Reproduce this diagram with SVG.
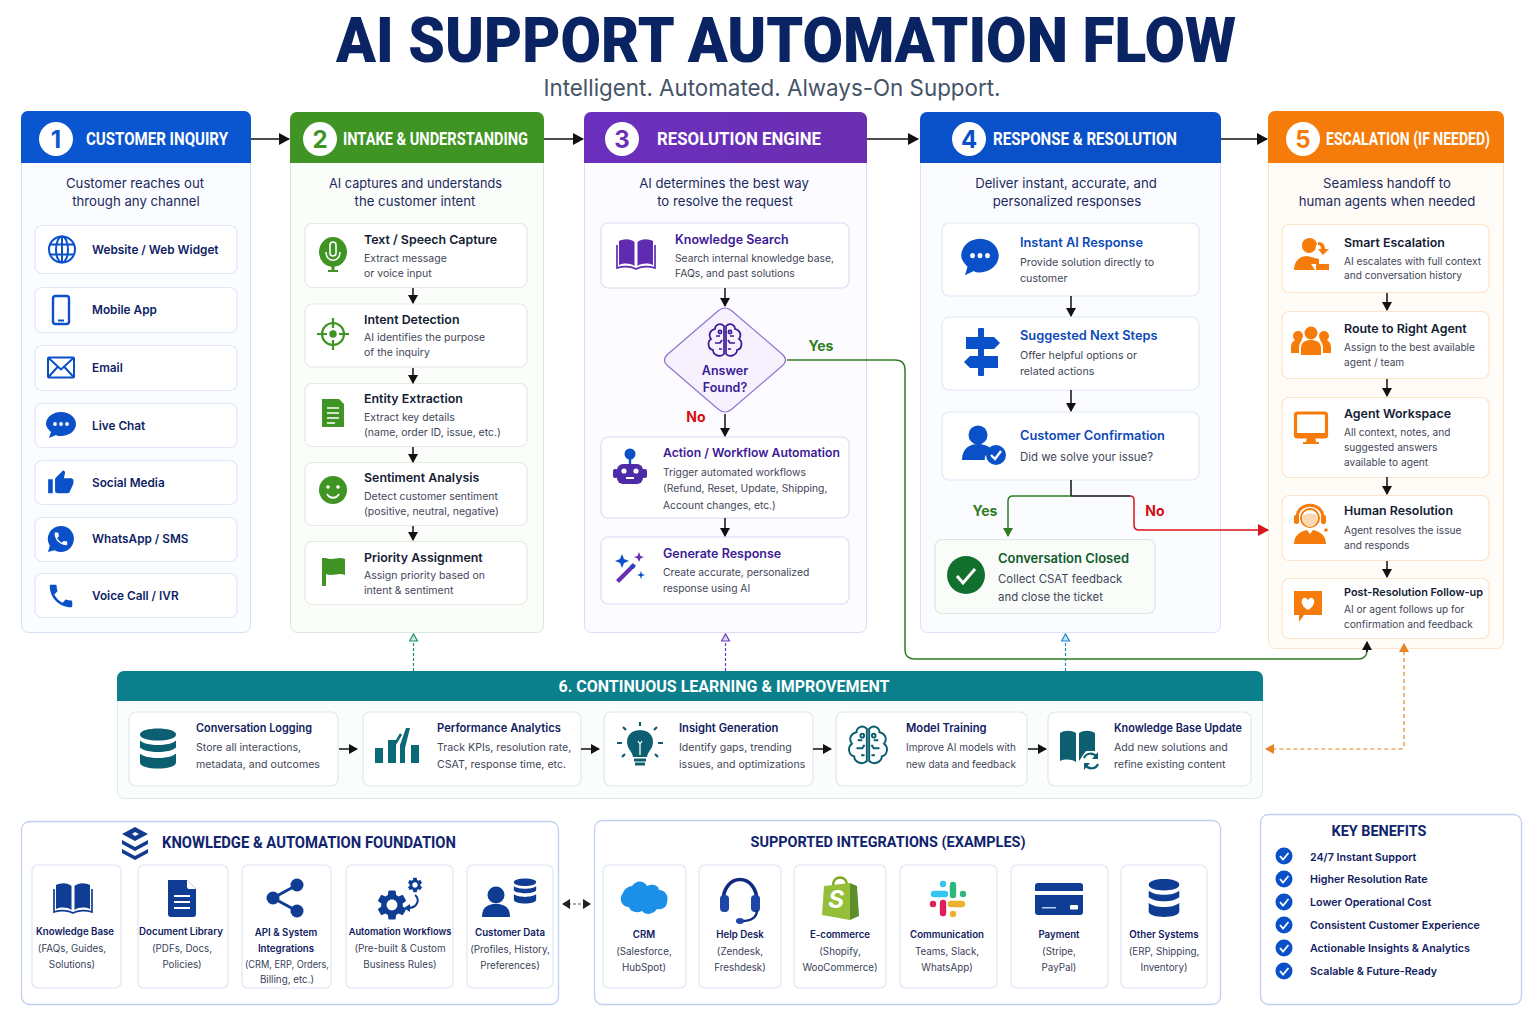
<svg xmlns="http://www.w3.org/2000/svg" width="1536" height="1024" viewBox="0 0 1536 1024">
<style>
text{font-family:Inter,"Noto Sans","Liberation Sans",sans-serif}
.hd{font-family:Roboto,"Liberation Sans",sans-serif;font-weight:700;font-size:18px;fill:#fff}
.num{font-family:Inter,sans-serif;font-weight:700;font-size:24px;text-anchor:middle}
.sub{font-size:13.2px;text-anchor:middle;fill:#1b2a5c}
.t{font-size:12.4px;font-weight:600;fill:#141c33}
.d{font-size:10.7px;fill:#3f4658}
.dg{font-size:10.5px;fill:#3f4658}
.dp{font-size:10.3px;fill:#3f4658}
.do{font-size:10.15px;fill:#3f4658}
.dl{font-size:11.4px;fill:#3f4658}
.tb{font-size:11.8px;font-weight:600;fill:#0f1f66}
.tp{font-size:12.5px;font-weight:600;fill:#3c1a96}
.ts{font-size:12.8px;font-weight:600;fill:#0c49b8}
.s6{font-size:11.2px;font-weight:600;fill:#10205f}
.d6{font-size:10.6px;fill:#3f4658}
.ct{font-size:9.7px;font-weight:600;fill:#10205f;text-anchor:middle}
.cd{font-size:9.8px;fill:#3a4258;text-anchor:middle}
.kb{font-size:10.7px;font-weight:600;fill:#10205f}
.card{fill:#fff;stroke:#dfe6f5;stroke-width:1.2}
.cardg{fill:#fff;stroke:#e3eadf;stroke-width:1.2}
.cardp{fill:#fff;stroke:#e0daf3;stroke-width:1.2}
.cardo{fill:#fff;stroke:#fde3c8;stroke-width:1.2}
.cardt{fill:#fff;stroke:#dde8ee;stroke-width:1.2}
.cn{fill:none;stroke:#111;stroke-width:1.5}
.lab{font-size:14px;font-weight:700}
</style>
<defs>
<marker id="akb" markerWidth="11" markerHeight="12" refX="10" refY="6" orient="auto" markerUnits="userSpaceOnUse"><path d="M0 0L11 6L0 12Z" fill="#111"/></marker>
<marker id="akd" markerWidth="9" markerHeight="10" refX="8" refY="5" orient="auto" markerUnits="userSpaceOnUse"><path d="M0 0L9 5L0 10Z" fill="#111"/></marker>
<marker id="agr" markerWidth="9" markerHeight="10" refX="8" refY="5" orient="auto" markerUnits="userSpaceOnUse"><path d="M0 0L9 5L0 10Z" fill="#2f7d22"/></marker>
<marker id="ard" markerWidth="11" markerHeight="12" refX="10" refY="6" orient="auto" markerUnits="userSpaceOnUse"><path d="M0 0L11 6L0 12Z" fill="#d8141c"/></marker>
<marker id="aor" markerWidth="9" markerHeight="10" refX="8" refY="5" orient="auto-start-reverse" markerUnits="userSpaceOnUse"><path d="M0 0L9 5L0 10Z" fill="#e58422"/></marker>
<marker id="atl" markerWidth="9" markerHeight="10" refX="8" refY="5" orient="auto" markerUnits="userSpaceOnUse"><path d="M1 1L8 5L1 9Z" fill="#c9ebdc" stroke="#1f8f6a" stroke-width="1.2"/></marker>
<marker id="apu" markerWidth="9" markerHeight="10" refX="8" refY="5" orient="auto" markerUnits="userSpaceOnUse"><path d="M1 1L8 5L1 9Z" fill="#e6dcf6" stroke="#6a3ab5" stroke-width="1.2"/></marker>
<marker id="abl" markerWidth="9" markerHeight="10" refX="8" refY="5" orient="auto" markerUnits="userSpaceOnUse"><path d="M1 1L8 5L1 9Z" fill="#cfe7f7" stroke="#1c86c9" stroke-width="1.2"/></marker>
<marker id="adb" markerWidth="8" markerHeight="10" refX="7" refY="5" orient="auto-start-reverse" markerUnits="userSpaceOnUse"><path d="M0 0L8 5L0 10Z" fill="#222"/></marker>
<linearGradient id="gP" x1="0" y1="0" x2="1" y2="0"><stop offset="0" stop-color="#6b2fbf"/><stop offset="1" stop-color="#6a2fb0"/></linearGradient>

<g id="i-globe" fill="none" stroke="currentColor" stroke-width="2"><circle r="13"/><ellipse rx="6" ry="13"/><path d="M0-13V13M-12-5H12M-12 5H12"/></g>
<g id="i-phone"><rect x="-8" y="-14" width="16" height="28" rx="2.5" fill="none" stroke="currentColor" stroke-width="2.4"/><rect x="-3" y="9.500" width="6" height="2" fill="currentColor"/></g>
<g id="i-mail" fill="none" stroke="currentColor" stroke-width="2"><rect x="-13" y="-10" width="26" height="20" rx="1"/><path d="M-13-10L0 2L13-10M-13 10L-3-1M13 10L3-1"/></g>
<g id="i-chat"><path d="M0-13C9-13 15-7 15-1C15 6 8 11 0 11C-2 11-4 11-5 10L-12 13L-10 7C-13 4-15 2-15-1C-15-7-9-13 0-13Z" fill="currentColor"/><circle cx="-6" cy="-1" r="1.9" fill="#fff"/><circle cy="-1" r="1.9" fill="#fff"/><circle cx="6" cy="-1" r="1.9" fill="#fff"/></g>
<g id="i-thumb" fill="currentColor" transform="translate(-14 -13) scale(1.15)"><path d="M1 21h4V9H1v12zm22-11c0-1.1-.9-2-2-2h-6.31l.95-4.57.03-.32c0-.41-.17-.79-.44-1.06L14.17 1 7.59 7.59C7.22 7.95 7 8.45 7 9v10c0 1.1.9 2 2 2h9c.83 0 1.54-.5 1.84-1.22l3.02-7.05c.09-.23.14-.47.14-.73v-2z"/></g>
<g id="i-wa"><path d="M0-13A13 13 0 1 1-6.500 11.300L-13 13L-11.200 6.800A13 13 0 0 1 0-13Z" fill="currentColor"/><g transform="translate(-8.500 -8.500) scale(.7)"><path fill="#fff" d="M6.62 10.79c1.44 2.83 3.76 5.14 6.59 6.59l2.2-2.2c.27-.27.67-.36 1.02-.24 1.12.37 2.33.57 3.57.57.55 0 1 .45 1 1V20c0 .55-.45 1-1 1-9.39 0-17-7.61-17-17 0-.55.45-1 1-1h3.5c.55 0 1 .45 1 1 0 1.25.2 2.45.57 3.57.11.35.03.74-.25 1.02l-2.2 2.2z"/></g></g>
<g id="i-call" transform="translate(-15 -15) scale(1.25)"><path fill="currentColor" d="M6.62 10.79c1.44 2.83 3.76 5.14 6.59 6.59l2.2-2.2c.27-.27.67-.36 1.02-.24 1.12.37 2.33.57 3.57.57.55 0 1 .45 1 1V20c0 .55-.45 1-1 1-9.39 0-17-7.61-17-17 0-.55.45-1 1-1h3.5c.55 0 1 .45 1 1 0 1.25.2 2.45.57 3.57.11.35.03.74-.25 1.02l-2.2 2.2z"/></g>
<g id="i-mic"><ellipse cy="-3" rx="14" ry="15" fill="currentColor"/><rect x="-3" y="-13" width="6" height="14" rx="3" fill="none" stroke="#fff" stroke-width="1.6"/><path d="M-7-3C-7 8 7 8 7-3" fill="none" stroke="#fff" stroke-width="1.5"/><path d="M-1.500 11H1.500V15H5V17H-5V15H-1.500Z" fill="currentColor"/></g>
<g id="i-target" fill="none" stroke="currentColor" stroke-width="2.2"><circle r="11"/><path d="M0-16V-6M0 6V16M-16 0H-6M6 0H16"/><circle r="2.6" fill="currentColor"/></g>
<g id="i-doc"><path d="M-11-14H6L11-9V14H-11Z" fill="currentColor"/><path d="M-6-5H6M-6 0H6M-6 5H6M-6 10H2" stroke="#fff" stroke-width="1.6"/></g>
<g id="i-smile"><circle r="14" fill="currentColor"/><circle cx="-5" cy="-3" r="1.8" fill="#fff"/><circle cx="5" cy="-3" r="1.8" fill="#fff"/><path d="M-6 4C-3 9 3 9 6 4" fill="none" stroke="#fff" stroke-width="1.8"/></g>
<g id="i-flag"><path d="M-11-14H-7V14H-11Z" fill="currentColor"/><path d="M-7-14C0-11 5-16 12-13V3C5 0 0 5-7 2Z" fill="currentColor"/></g>
<g id="i-book"><path d="M-1.500-12C-6-16-13-15-17-13V11C-12 9-6 9-1.500 12ZM1.500-12C6-16 13-15 17-13V11C12 9 6 9 1.500 12Z" fill="currentColor"/><path d="M-19-9V14C-13 12-5 12 0 15C5 12 13 12 19 14V-9" fill="none" stroke="currentColor" stroke-width="1.7"/></g>
<g id="i-brain" fill="none" stroke="currentColor" stroke-width="1.7"><path d="M-1-15C-5-19-10-16-10-12C-15-11-17-6-14-2C-18 1-17 8-12 9C-12 14-5 17-1 13ZM1-15C5-19 10-16 10-12C15-11 17-6 14-2C18 1 17 8 12 9C12 14 5 17 1 13Z"/><path d="M-9-5H-5M-10 2H-5L-3-1M-6 8H-3M9-5H5M10 2H5L3-1M6 8H3"/><circle cx="-5" cy="-9" r="1.6"/><circle cx="5" cy="-9" r="1.6"/></g>
<g id="i-robot"><path d="M0-8V-2" stroke="#0a50c8" stroke-width="2.4"/><circle cy="-12" r="5.500" fill="#0a50c8"/><rect x="-13" y="-2" width="26" height="20" rx="6" fill="currentColor"/><rect x="-17" y="3" width="5" height="9" rx="2" fill="currentColor"/><rect x="12" y="3" width="5" height="9" rx="2" fill="currentColor"/><circle cx="-6" cy="5" r="2.6" fill="#fff"/><circle cx="6" cy="5" r="2.6" fill="#fff"/><rect x="-4" y="11" width="8" height="2" fill="#fff"/></g>
<g id="i-wand"><path d="M-13 13L4-4L7-1L-10 16Z" fill="#6a2fb5"/><path d="M2-2L5 1" stroke="#0a50c8" stroke-width="3"/><path d="M-7-13L-5-8L0-6L-5-4L-7 1L-9-4L-14-6L-9-8Z" fill="#0a50c8"/><path d="M10-15L11.500-11L15-10L11.500-8.500L10-5L8.500-8.500L5-10L8.500-11Z" fill="#6a2fb5"/><path d="M12 4L13 7L16 8L13 9L12 12L11 9L8 8L11 7Z" fill="#0a50c8"/></g>
<g id="i-sign" fill="currentColor"><rect x="-3" y="-24" width="6" height="48" rx="1"/><path d="M-15-15H13L19-9L13-3H-15Z"/><path d="M17 4H-11L-17 10L-11 16H17Z"/></g>
<g id="i-uc" fill="currentColor"><circle cx="-6" cy="-10" r="9.500"/><path d="M-22 15C-22 3-14-1-6-1C0-1 6 1 8 6C3 8 0 11 1 15Z"/><circle cx="12" cy="10" r="10"/><path d="M7 10L11 14L17 6" fill="none" stroke="#fff" stroke-width="2.4"/></g>
<g id="i-ok"><circle r="19" fill="currentColor"/><path d="M-9 1L-3 8L9-6" fill="none" stroke="#fff" stroke-width="3"/></g>
<g id="i-esc" fill="currentColor"><circle cx="-4" cy="-10" r="7"/><path d="M-10-11C-10-19 3-19 3-11" fill="none" stroke="currentColor" stroke-width="2"/><path d="M-19 14C-19 4-12 0-6 0L6 3V8H-2L2 14Z"/><path d="M5-14C10-14 12-11 12-7H16L10-1L5-7H8C8-10 7-11 5-11Z"/><path d="M3 8H16V14H3Z"/></g>
<g id="i-ppl" fill="currentColor"><circle cy="-8" r="6.500"/><path d="M-10 14V7C-10 1-5-1 0-1C5-1 10 1 10 7V14Z"/><circle cx="-13" cy="-5" r="5"/><path d="M-20 12V6C-20 1-16-2-12-2C-11-2-10-2-9-1C-11 1-12 4-12 7V12Z"/><circle cx="13" cy="-5" r="5"/><path d="M20 12V6C20 1 16-2 12-2C11-2 10-2 9-1C11 1 12 4 12 7V12Z"/></g>
<g id="i-mon"><rect x="-15.500" y="-15" width="31" height="24" rx="2" fill="none" stroke="currentColor" stroke-width="3.200"/><rect x="-17" y="5" width="34" height="4" fill="currentColor"/><path d="M-4 9H4L5 14H8V16H-8V14H-5Z" fill="currentColor"/></g>
<g id="i-agent" fill="currentColor"><circle cy="-7" r="9" fill="#fff" stroke="currentColor" stroke-width="2"/><path d="M-13-7C-13-24 13-24 13-7" fill="none" stroke="currentColor" stroke-width="3"/><rect x="-16" y="-10" width="5" height="9" rx="2"/><rect x="11" y="-10" width="5" height="9" rx="2"/><path d="M-8-7C-8-13 8-13 8-7C8-4 5 2 0 2C-5 2-8-4-8-7Z" fill="#fbd8b5"/><path d="M-16 19C-16 9-8 6-3 5L0 9L3 5C8 6 16 9 16 19Z"/><circle cx="16" cy="5" r="1.800"/></g>
<g id="i-hb"><path d="M-14-14H14V10H-4L-9 17V10H-14Z" fill="currentColor"/><path d="M0 5C-10-1-6-9-2-7L0-5L2-7C6-9 10-1 0 5Z" fill="#fff"/></g>
<g id="i-db" fill="currentColor"><path d="M-18-14C-18-22 18-22 18-14C18-6-18-6-18-14Z"/><path d="M-18-8C-12-2 12-2 18-8V-1C12 5-12 5-18-1Z"/><path d="M-18 5C-12 11 12 11 18 5V14C18 22-18 22-18 14Z"/></g>
<g id="i-chart" fill="currentColor"><rect x="-22" y="0" width="8" height="15"/><rect x="-9" y="-8" width="8" height="23"/><rect x="14" y="-3" width="8" height="18"/><path d="M3 15V-3L9-20H13L8 0V15Z"/><path d="M-2-4L4-14" stroke="currentColor" stroke-width="2.500"/></g>
<g id="i-bulb" fill="currentColor"><path d="M0-15C-11-15-15-6-12 2C-10 6-8 7-7 12H7C8 7 10 6 12 2C15-6 11-15 0-15Z"/><rect x="-6" y="13.500" width="12" height="3"/><rect x="-5" y="17.500" width="10" height="3"/><path d="M0-19V-23M-14-15L-17-18M14-15L17-18M-18-2H-23M18-2H23M-15 9L-18 12M15 9L18 12" stroke="currentColor" stroke-width="2.200" fill="none"/><path d="M-2-4L0-1L2-4M0-1V10" stroke="#fff" stroke-width="1.300" fill="none"/></g>
<g id="i-kbu" fill="currentColor"><path d="M-2-15C-7-18-13-18-18-15V13C-13 11-7 11-2 14ZM1-15C6-18 12-18 17-15V3L8 3L1 13Z"/><circle cx="13" cy="13" r="10" fill="#fff"/><path d="M6 10C8 5 15 4 19 9M20 16C18 21 11 22 7 17" fill="none" stroke="currentColor" stroke-width="2.200"/><path d="M20 4V11H14ZM6 22V15H12Z"/></g>
<g id="i-stack" fill="currentColor"><path d="M0-15L13-8L0-1L-13-8Z"/><path d="M-13-2L0 5L13-2V2L0 9L-13 2Z"/><path d="M-13 7L0 14L13 7V11L0 18L-13 11Z"/><path d="M-3-8L0-10L4-8L0-6Z" fill="#fff"/></g>
<g id="i-file"><path d="M-14-18H5L14-9V16Q14 19 11 19H-11Q-14 19-14 16Z" fill="currentColor"/><path d="M5-18L14-9H7Q5-9 5-11Z" fill="#fff"/><path d="M-8-2H8M-8 4H8M-8 10H8" stroke="#fff" stroke-width="1.800"/></g>
<g id="i-share" fill="currentColor"><circle cx="-12" cy="0" r="6.500"/><circle cx="12" cy="-13" r="6.500"/><circle cx="12" cy="13" r="6.500"/><path d="M-12 0L12-13M-12 0L12 13" stroke="currentColor" stroke-width="3"/></g>
<g id="i-gears" fill="currentColor"><g transform="translate(-22 -12) scale(1.500)"><path fill-rule="evenodd" d="M19.140 12.940c.04-.3.06-.61.06-.94 0-.32-.02-.64-.07-.94l2.030-1.580c.18-.14.23-.41.12-.61l-1.920-3.320c-.12-.22-.37-.29-.59-.22l-2.390.96c-.5-.38-1.030-.7-1.620-.94l-.36-2.540c-.04-.24-.24-.41-.48-.41h-3.840c-.24 0-.43.17-.47.41l-.36 2.540c-.59.24-1.130.57-1.620.94l-2.390-.96c-.22-.08-.47 0-.59.22L2.740 8.870c-.12.21-.08.47.12.61l2.030 1.580c-.05.3-.09.63-.09.94s.02.64.07.94l-2.030 1.580c-.18.14-.23.41-.12.61l1.920 3.320c.12.22.37.29.59.22l2.390-.96c.5.38 1.030.7 1.620.94l.36 2.540c.05.24.24.41.48.41h3.840c.24 0 .44-.17.47-.41l.36-2.540c.59-.24 1.130-.56 1.620-.94l2.390.96c.22.08.47 0 .59-.22l1.920-3.320c.12-.22.07-.47-.12-.61l-2.010-1.580zM12 15.600c-1.980 0-3.600-1.620-3.600-3.600s1.620-3.600 3.600-3.600 3.600 1.620 3.600 3.600-1.620 3.600-3.600 3.600z"/></g><g transform="translate(10 -23) scale(.75)"><path fill-rule="evenodd" d="M19.140 12.940c.04-.3.06-.61.06-.94 0-.32-.02-.64-.07-.94l2.030-1.580c.18-.14.23-.41.12-.61l-1.920-3.320c-.12-.22-.37-.29-.59-.22l-2.390.96c-.5-.38-1.030-.7-1.620-.94l-.36-2.540c-.04-.24-.24-.41-.48-.41h-3.840c-.24 0-.43.17-.47.41l-.36 2.540c-.59.24-1.130.57-1.620.94l-2.390-.96c-.22-.08-.47 0-.59.22L2.740 8.870c-.12.21-.08.47.12.61l2.030 1.580c-.05.3-.09.63-.09.94s.02.64.07.94l-2.030 1.580c-.18.14-.23.41-.12.61l1.920 3.320c.12.22.37.29.59.22l2.390-.96c.5.38 1.030.7 1.620.94l.36 2.540c.05.24.24.41.48.41h3.840c.24 0 .44-.17.47-.41l.36-2.540c.59-.24 1.130-.56 1.620-.94l2.390.96c.22.08.47 0 .59-.22l1.920-3.320c.12-.22.07-.47-.12-.61l-2.010-1.580zM12 15.600c-1.980 0-3.600-1.620-3.600-3.600s1.620-3.600 3.600-3.600 3.600 1.620 3.600 3.600-1.620 3.600-3.600 3.600z"/></g><path d="M19-4C24 0 22 9 12 9" fill="none" stroke="currentColor" stroke-width="2"/><path d="M14 5V13L8 9Z"/></g>
<g id="i-cust" fill="currentColor"><circle cx="-14" cy="-3" r="8.500"/><path d="M-28 19C-28 8-21 6-14 6C-7 6 0 8 0 19Z"/><g transform="translate(15 -7) scale(.62)"><path d="M-18-14C-18-22 18-22 18-14C18-6-18-6-18-14Z"/><path d="M-18-8C-12-2 12-2 18-8V-1C12 5-12 5-18-1Z"/><path d="M-18 5C-12 11 12 11 18 5V14C18 22-18 22-18 14Z"/></g></g>
<g id="i-cloud"><path d="M-12-13C-8-19 0-19 3-13C9-16 15-13 15-9C22-9 25-2 23 3C23 9 17 11 13 10C10 15 2 17-2 12C-8 15-14 12-15 8C-22 8-26 0-21-6C-20-10-15-13-12-13Z" fill="#1c8fe8"/></g>
<g id="i-hs"><path d="M-17 2C-17-28 17-28 17 2" fill="none" stroke="#102a80" stroke-width="3.600"/><rect x="-20" y="-5" width="9" height="17" rx="4" fill="#1d46a8"/><rect x="11" y="-5" width="9" height="17" rx="4" fill="#1d46a8"/><path d="M17 10C17 18 10 21 2 21" fill="none" stroke="#102a80" stroke-width="2.400"/><ellipse cx="0" cy="21" rx="4" ry="3" fill="#1d46a8"/></g>
<g id="i-bag"><path d="M-7-13C-7-23 7-23 7-13" fill="none" stroke="#7fa81f" stroke-width="2.500"/><path d="M-16-12L10-15L10 22L-18 17Z" fill="#95bf3a"/><path d="M10-15L17-12L19 18L10 22Z" fill="#5e8e2c"/><text x="-4" y="10" font-family="Liberation Serif,serif" font-style="italic" font-weight="700" font-size="24" fill="#fff" text-anchor="middle">S</text></g>
<g id="i-slack" stroke-linecap="round" fill="none" stroke-width="6.400"><path d="M-14-5H-3M-5-15V-15" stroke="#36c5f0"/><path d="M5-14V-4M15-5V-5" stroke="#2eb67d"/><path d="M14 5H3M5 15V15" stroke="#ecb22e"/><path d="M-5 14V4M-15 5V5" stroke="#e01e5a"/></g>
<g id="i-card"><rect x="-24" y="-16" width="48" height="32" rx="3" fill="currentColor"/><rect x="-24" y="-8" width="48" height="4" fill="#fff"/><rect x="-17" y="8" width="14" height="1.500" fill="#bcd0f2"/><rect x="11" y="6" width="8" height="4.500" rx="1" fill="#fff"/></g>
<g id="i-kcheck"><circle r="8.500" fill="currentColor"/><path d="M-4 0L-1 3.500L4.500-3" fill="none" stroke="#fff" stroke-width="1.800"/></g>
</defs>

<rect width="1536" height="1024" fill="#fff"/>

<g id="title">
<text x="786" y="62" text-anchor="middle" textLength="900" lengthAdjust="spacingAndGlyphs" style="font-family:Roboto,'Liberation Sans',sans-serif;font-weight:900;font-size:63px;fill:#0a2463">AI SUPPORT AUTOMATION FLOW</text>
<text x="772" y="96" text-anchor="middle" textLength="457" lengthAdjust="spacingAndGlyphs" style="font-size:23px;fill:#465468">Intelligent. Automated. Always-On Support.</text>
</g>

<g id="panel1">
<rect x="21.500" y="111.500" width="229" height="521" rx="7" fill="#fbfcff" stroke="#d5e0f6"/>
<path d="M21 163V118a7 7 0 0 1 7-7H244a7 7 0 0 1 7 7V163Z" fill="#0a55d0"/>
<circle cx="56" cy="139" r="17" fill="#fff"/><text class="num" x="56" y="147.500" fill="#0a55d0">1</text>
<text class="hd" x="86" y="145" textLength="142" lengthAdjust="spacingAndGlyphs">CUSTOMER INQUIRY</text>
<text class="sub" x="135" y="188">Customer reaches out</text><text class="sub" x="136" y="206">through any channel</text>
</g>
<g id="ch-web"><rect class="card" x="35" y="225.500" width="202" height="48" rx="7"/><use href="#i-globe" x="62" y="249.500" style="color:#0a50c8"/><text class="tb" x="92" y="253.500">Website / Web Widget</text></g>
<g id="ch-mobile"><rect class="card" x="35" y="287.500" width="202" height="45" rx="7"/><use href="#i-phone" x="61" y="310" style="color:#0a50c8"/><text class="tb" x="92" y="314">Mobile App</text></g>
<g id="ch-email"><rect class="card" x="35" y="345.500" width="202" height="45" rx="7"/><use href="#i-mail" x="61" y="367.500" style="color:#0a50c8"/><text class="tb" x="92" y="371.500">Email</text></g>
<g id="ch-chat"><rect class="card" x="35" y="403.500" width="202" height="44" rx="7"/><use href="#i-chat" x="61" y="425" style="color:#0a50c8"/><text class="tb" x="92" y="429.500">Live Chat</text></g>
<g id="ch-social"><rect class="card" x="35" y="460.500" width="202" height="44" rx="7"/><use href="#i-thumb" x="61" y="482" style="color:#0a50c8"/><text class="tb" x="92" y="486.500">Social Media</text></g>
<g id="ch-wa"><rect class="card" x="35" y="517.500" width="202" height="44" rx="7"/><use href="#i-wa" x="61" y="539" style="color:#0a50c8"/><text class="tb" x="92" y="543">WhatsApp / SMS</text></g>
<g id="ch-voice"><rect class="card" x="35" y="573.500" width="202" height="44" rx="7"/><use href="#i-call" x="61" y="596" style="color:#0a50c8"/><text class="tb" x="92" y="600">Voice Call / IVR</text></g>

<g id="panel2">
<rect x="290.500" y="112.500" width="253" height="520" rx="7" fill="#fbfdfa" stroke="#dbe6d8"/>
<path d="M290 163V119a7 7 0 0 1 7-7H537a7 7 0 0 1 7 7V163Z" fill="#3f9424"/>
<circle cx="320" cy="139" r="17" fill="#fff"/><text class="num" x="320" y="147.500" fill="#3f9424">2</text>
<text class="hd" x="343" y="145" textLength="185" lengthAdjust="spacingAndGlyphs">INTAKE &amp; UNDERSTANDING</text>
<text class="sub" x="415.500" y="188" textLength="173" lengthAdjust="spacingAndGlyphs">AI captures and understands</text><text class="sub" x="415" y="206">the customer intent</text>
</g>
<g id="n-capture"><rect class="cardg" x="305" y="223.500" width="222" height="64" rx="7"/><use href="#i-mic" x="333" y="255" style="color:#3f9424"/><text class="t" x="364" y="244">Text / Speech Capture</text><text class="dg" x="364" y="262">Extract message</text><text class="dg" x="364" y="277">or voice input</text></g>
<g id="n-intent"><rect class="cardg" x="305" y="304" width="222" height="63" rx="7"/><use href="#i-target" x="333" y="334" style="color:#3f9424"/><text class="t" x="364" y="324">Intent Detection</text><text class="dg" x="364" y="341">AI identifies the purpose</text><text class="dg" x="364" y="356">of the inquiry</text></g>
<g id="n-entity"><rect class="cardg" x="305" y="383.500" width="222" height="63" rx="7"/><use href="#i-doc" x="333" y="413" style="color:#3f9424"/><text class="t" x="364" y="403">Entity Extraction</text><text class="dg" x="364" y="421">Extract key details</text><text class="dg" x="364" y="436">(name, order ID, issue, etc.)</text></g>
<g id="n-sentiment"><rect class="cardg" x="305" y="462.500" width="222" height="63" rx="7"/><use href="#i-smile" x="333" y="490" style="color:#3f9424"/><text class="t" x="364" y="482">Sentiment Analysis</text><text class="dg" x="364" y="500">Detect customer sentiment</text><text class="dg" x="364" y="515">(positive, neutral, negative)</text></g>
<g id="n-priority"><rect class="cardg" x="305" y="541.500" width="222" height="63" rx="7"/><use href="#i-flag" x="333" y="572" style="color:#3f9424"/><text class="t" x="364" y="562">Priority Assignment</text><text class="dg" x="364" y="579">Assign priority based on</text><text class="dg" x="364" y="594">intent &amp; sentiment</text></g>

<g id="panel3">
<rect x="584.500" y="112.500" width="282" height="520" rx="7" fill="#fcfbff" stroke="#dedaf0"/>
<path d="M584 163V119a7 7 0 0 1 7-7H860a7 7 0 0 1 7 7V163Z" fill="url(#gP)"/>
<circle cx="622" cy="139" r="17" fill="#fff"/><text class="num" x="622" y="147.500" fill="#6a2fb5">3</text>
<text class="hd" x="657" y="145" textLength="164" lengthAdjust="spacingAndGlyphs">RESOLUTION ENGINE</text>
<text class="sub" x="724" y="188">AI determines the best way</text><text class="sub" x="725" y="206">to resolve the request</text>
</g>
<g id="n-ksearch"><rect class="cardp" x="601" y="223" width="248" height="65" rx="7"/><use href="#i-book" x="636" y="254" style="color:#5f2bb0"/><text class="tp" x="675" y="244">Knowledge Search</text><text class="dp" x="675" y="262">Search internal knowledge base,</text><text class="dp" x="675" y="277">FAQs, and past solutions</text></g>
<g id="n-answer"><path d="M718 311Q725 305 732 311L782 354Q789 360 782 366L732 409Q725 415 718 409L668 366Q661 360 668 354Z" fill="#f6f1fd" stroke="#8f75cf" stroke-width="1.200"/><use href="#i-brain" x="725" y="341" style="color:#3c1a96"/><text class="tp" x="725" y="375" text-anchor="middle">Answer</text><text class="tp" x="725" y="392" text-anchor="middle">Found?</text></g>
<g id="n-action"><rect class="cardp" x="601" y="437" width="248" height="81" rx="7"/><use href="#i-robot" x="630" y="466" style="color:#4d2aa8"/><text class="tp" x="663" y="457" style="font-size:12.200px">Action / Workflow Automation</text><text class="dp" x="663" y="476">Trigger automated workflows</text><text class="dp" x="663" y="492">(Refund, Reset, Update, Shipping,</text><text class="dp" x="663" y="509">Account changes, etc.)</text></g>
<g id="n-generate"><rect class="cardp" x="601" y="537" width="248" height="67" rx="7"/><use href="#i-wand" x="629" y="567"/><text class="tp" x="663" y="558">Generate Response</text><text class="dp" x="663" y="576">Create accurate, personalized</text><text class="dp" x="663" y="592">response using AI</text></g>

<g id="panel4">
<rect x="920.500" y="112.500" width="300" height="520" rx="7" fill="#fbfcff" stroke="#dbe3f5"/>
<path d="M920 163V119a7 7 0 0 1 7-7H1214a7 7 0 0 1 7 7V163Z" fill="#0a50c8"/>
<circle cx="969" cy="139" r="17" fill="#fff"/><text class="num" x="969" y="147.500" fill="#0a50c8">4</text>
<text class="hd" x="993" y="145" textLength="184" lengthAdjust="spacingAndGlyphs">RESPONSE &amp; RESOLUTION</text>
<text class="sub" x="1066" y="188">Deliver instant, accurate, and</text><text class="sub" x="1067" y="206">personalized responses</text>
</g>
<g id="n-instant"><rect class="card" x="942" y="223" width="257" height="73" rx="7"/><use href="#i-chat" transform="translate(980 257) scale(1.250 1.400)" style="color:#0a50c8"/><text class="ts" x="1020" y="247">Instant AI Response</text><text class="d" x="1020" y="266">Provide solution directly to</text><text class="d" x="1020" y="282">customer</text></g>
<g id="n-next"><rect class="card" x="942" y="317" width="257" height="73" rx="7"/><use href="#i-sign" x="981" y="352" style="color:#0a50c8"/><text class="ts" x="1020" y="340">Suggested Next Steps</text><text class="d" x="1020" y="359">Offer helpful options or</text><text class="d" x="1020" y="375">related actions</text></g>
<g id="n-confirm"><rect class="card" x="942" y="412" width="257" height="68" rx="7"/><use href="#i-uc" x="984" y="445" style="color:#0a50c8"/><text class="ts" x="1020" y="440">Customer Confirmation</text><text class="dl" x="1020" y="461">Did we solve your issue?</text></g>
<g id="n-closed"><rect x="935" y="539.500" width="220" height="74" rx="7" fill="#fafcfa" stroke="#dde6dd" stroke-width="1.200"/><use href="#i-ok" x="966" y="575" style="color:#12702f"/><text x="998" y="563" style="font-size:13px;font-weight:600;fill:#0f5b2c">Conversation Closed</text><text class="dl" x="998" y="583">Collect CSAT feedback</text><text class="dl" x="998" y="601">and close the ticket</text></g>

<g id="panel5">
<rect x="1268.500" y="111.500" width="235" height="537" rx="7" fill="#fffbf6" stroke="#fde3c8"/>
<path d="M1268 163V118a7 7 0 0 1 7-7H1497a7 7 0 0 1 7 7V163Z" fill="#f57c0a"/>
<circle cx="1303" cy="139" r="17" fill="#fff"/><text class="num" x="1303" y="147.500" fill="#f57c0a">5</text>
<text class="hd" x="1326" y="144.500" textLength="164" lengthAdjust="spacingAndGlyphs">ESCALATION (IF NEEDED)</text>
<text class="sub" x="1387" y="188">Seamless handoff to</text><text class="sub" x="1387" y="206">human agents when needed</text>
</g>
<g id="n-smart"><rect class="cardo" x="1282" y="224.500" width="207" height="68" rx="7"/><use href="#i-esc" x="1313" y="256" style="color:#f57c0a"/><text class="t" x="1344" y="247">Smart Escalation</text><text class="do" x="1344" y="265">AI escalates with full context</text><text class="do" x="1344" y="279">and conversation history</text></g>
<g id="n-route"><rect class="cardo" x="1282" y="311.500" width="207" height="67" rx="7"/><use href="#i-ppl" x="1311" y="341" style="color:#f57c0a"/><text class="t" x="1344" y="333">Route to Right Agent</text><text class="do" x="1344" y="351">Assign to the best available</text><text class="do" x="1344" y="366">agent / team</text></g>
<g id="n-workspace"><rect class="cardo" x="1282" y="397.500" width="207" height="80" rx="7"/><use href="#i-mon" x="1311" y="428" style="color:#f57c0a"/><text class="t" x="1344" y="418">Agent Workspace</text><text class="do" x="1344" y="436">All context, notes, and</text><text class="do" x="1344" y="451">suggested answers</text><text class="do" x="1344" y="466">available to agent</text></g>
<g id="n-human"><rect class="cardo" x="1282" y="495.500" width="207" height="65" rx="7"/><use href="#i-agent" x="1310" y="525" style="color:#f57c0a"/><text class="t" x="1344" y="515">Human Resolution</text><text class="do" x="1344" y="534">Agent resolves the issue</text><text class="do" x="1344" y="549">and responds</text></g>
<g id="n-post"><rect class="cardo" x="1282" y="578.500" width="207" height="60" rx="7"/><use href="#i-hb" x="1308" y="605" style="color:#f57c0a"/><text class="t" x="1344" y="596" style="font-size:10.900px">Post-Resolution Follow-up</text><text class="do" x="1344" y="613">AI or agent follows up for</text><text class="do" x="1344" y="628">confirmation and feedback</text></g>

<g id="panel6">
<rect x="117.500" y="671.500" width="1145" height="127" rx="7" fill="#fbfdfd" stroke="#dbe8ee"/>
<path d="M117 701V678a7 7 0 0 1 7-7H1256a7 7 0 0 1 7 7V701Z" fill="#0b7f8c"/>
<text class="hd" x="724" y="692" text-anchor="middle" textLength="331" lengthAdjust="spacingAndGlyphs" style="font-size:16.500px">6. CONTINUOUS LEARNING &amp; IMPROVEMENT</text>
</g>
<g id="l-log"><rect class="cardt" x="129" y="712" width="209" height="74" rx="7"/><use href="#i-db" x="158" y="748.500" style="color:#0c5f70"/><text class="s6" x="196" y="732" textLength="116" lengthAdjust="spacingAndGlyphs">Conversation Logging</text><text class="d6" x="196" y="751">Store all interactions,</text><text class="d6" x="196" y="768">metadata, and outcomes</text></g>
<g id="l-perf"><rect class="cardt" x="363" y="712" width="218" height="74" rx="7"/><use href="#i-chart" x="397" y="748" style="color:#0c6a78"/><text class="s6" x="437" y="732">Performance Analytics</text><text class="d6" x="437" y="751">Track KPIs, resolution rate,</text><text class="d6" x="437" y="768">CSAT, response time, etc.</text></g>
<g id="l-insight"><rect class="cardt" x="604" y="712" width="209" height="74" rx="7"/><use href="#i-bulb" x="640" y="745" style="color:#0c5f70"/><text class="s6" x="679" y="732">Insight Generation</text><text class="d6" x="679" y="751">Identify gaps, trending</text><text class="d6" x="679" y="768">issues, and optimizations</text></g>
<g id="l-model"><rect class="cardt" x="836" y="712" width="191" height="74" rx="7"/><use href="#i-brain" transform="translate(868 746) scale(1.150)" style="color:#0c5f70"/><text class="s6" x="906" y="732">Model Training</text><text class="d6" x="906" y="751" textLength="110" lengthAdjust="spacingAndGlyphs">Improve AI models with</text><text class="d6" x="906" y="768" textLength="110" lengthAdjust="spacingAndGlyphs">new data and feedback</text></g>
<g id="l-kb"><rect class="cardt" x="1048" y="712" width="203" height="74" rx="7"/><use href="#i-kbu" x="1078" y="748" style="color:#0c5f70"/><text class="s6" x="1114" y="732" textLength="128" lengthAdjust="spacingAndGlyphs">Knowledge Base Update</text><text class="d6" x="1114" y="751">Add new solutions and</text><text class="d6" x="1114" y="768">refine existing content</text></g>

<g id="foundation">
<rect x="21.500" y="821.500" width="537" height="183" rx="8" fill="#fff" stroke="#bfd0ee" stroke-width="1.300"/>
<use href="#i-stack" x="135" y="842" style="color:#123a8f"/>
<text x="162" y="848" textLength="294" lengthAdjust="spacingAndGlyphs" style="font-family:Roboto,sans-serif;font-weight:700;font-size:16px;fill:#10246e">KNOWLEDGE &amp; AUTOMATION FOUNDATION</text>
</g>
<g id="f-kb"><rect class="card" x="32" y="865" width="89" height="123" rx="6"/><use href="#i-book" x="73" y="898" style="color:#0f3d94"/><text class="ct" x="75" y="935">Knowledge Base</text><text class="cd" x="72" y="952">(FAQs, Guides,</text><text class="cd" x="72" y="968">Solutions)</text></g>
<g id="f-doc"><rect class="card" x="138" y="865" width="90" height="123" rx="6"/><use href="#i-file" x="182" y="898" style="color:#0f3d94"/><text class="ct" x="181" y="935">Document Library</text><text class="cd" x="182" y="952">(PDFs, Docs,</text><text class="cd" x="182" y="968">Policies)</text></g>
<g id="f-api"><rect class="card" x="242" y="865" width="89" height="123" rx="6"/><use href="#i-share" x="285" y="898" style="color:#0f3d94"/><text class="ct" x="286" y="936">API &amp; System</text><text class="ct" x="286" y="952">Integrations</text><text class="cd" x="287" y="968" textLength="84" lengthAdjust="spacingAndGlyphs">(CRM, ERP, Orders,</text><text class="cd" x="287" y="983">Billing, etc.)</text></g>
<g id="f-auto"><rect class="card" x="346" y="865" width="107" height="123" rx="6"/><use href="#i-gears" x="396" y="899" style="color:#0f3d94"/><text class="ct" x="400" y="935" style="font-size:9.300px">Automation Workflows</text><text class="cd" x="400" y="952">(Pre-built &amp; Custom</text><text class="cd" x="400" y="968">Business Rules)</text></g>
<g id="f-cust"><rect class="card" x="467" y="865" width="86" height="123" rx="6"/><use href="#i-cust" x="510" y="898" style="color:#0f3d94"/><text class="ct" x="510" y="936">Customer Data</text><text class="cd" x="510" y="953">(Profiles, History,</text><text class="cd" x="510" y="969">Preferences)</text></g>

<g id="integrations">
<rect x="594.500" y="820.500" width="626" height="184" rx="8" fill="#fff" stroke="#bfd0ee" stroke-width="1.300"/>
<text x="888" y="847" text-anchor="middle" textLength="275" lengthAdjust="spacingAndGlyphs" style="font-family:Roboto,sans-serif;font-weight:700;font-size:15.500px;fill:#10246e">SUPPORTED INTEGRATIONS (EXAMPLES)</text>
</g>
<g id="in-crm"><rect class="card" x="603" y="865" width="83" height="123" rx="6"/><use href="#i-cloud" x="644" y="899"/><text class="ct" x="644" y="938">CRM</text><text class="cd" x="644" y="955">(Salesforce,</text><text class="cd" x="644" y="971">HubSpot)</text></g>
<g id="in-help"><rect class="card" x="699" y="865" width="82" height="123" rx="6"/><use href="#i-hs" x="740" y="900"/><text class="ct" x="740" y="938">Help Desk</text><text class="cd" x="740" y="955">(Zendesk,</text><text class="cd" x="740" y="971">Freshdesk)</text></g>
<g id="in-ecom"><rect class="card" x="794" y="865" width="92" height="123" rx="6"/><use href="#i-bag" x="840" y="898"/><text class="ct" x="840" y="938">E-commerce</text><text class="cd" x="840" y="955">(Shopify,</text><text class="cd" x="840" y="971">WooCommerce)</text></g>
<g id="in-comm"><rect class="card" x="900" y="865" width="97" height="123" rx="6"/><use href="#i-slack" x="948" y="899"/><text class="ct" x="947" y="938">Communication</text><text class="cd" x="947" y="955">Teams, Slack,</text><text class="cd" x="947" y="971">WhatsApp)</text></g>
<g id="in-pay"><rect class="card" x="1011" y="865" width="97" height="123" rx="6"/><use href="#i-card" x="1059" y="899" style="color:#0f3d94"/><text class="ct" x="1059" y="938">Payment</text><text class="cd" x="1059" y="955">(Stripe,</text><text class="cd" x="1059" y="971">PayPal)</text></g>
<g id="in-other"><rect class="card" x="1121" y="865" width="86" height="123" rx="6"/><use href="#i-db" transform="translate(1164 898) scale(.85 .95)" style="color:#0f3d94"/><text class="ct" x="1164" y="938">Other Systems</text><text class="cd" x="1164" y="955">(ERP, Shipping,</text><text class="cd" x="1164" y="971">Inventory)</text></g>

<g id="benefits">
<rect x="1260.500" y="814.500" width="261" height="190" rx="8" fill="#fff" stroke="#bfd0ee" stroke-width="1.300"/>
<text x="1379" y="836" text-anchor="middle" textLength="95" lengthAdjust="spacingAndGlyphs" style="font-family:Roboto,sans-serif;font-weight:700;font-size:15px;fill:#10246e">KEY BENEFITS</text>
<g style="color:#0a50c8"><use href="#i-kcheck" x="1284" y="856"/><use href="#i-kcheck" x="1284" y="879"/><use href="#i-kcheck" x="1284" y="902"/><use href="#i-kcheck" x="1284" y="925"/><use href="#i-kcheck" x="1284" y="948"/><use href="#i-kcheck" x="1284" y="971"/></g>
<text class="kb" x="1310" y="860.500">24/7 Instant Support</text>
<text class="kb" x="1310" y="883">Higher Resolution Rate</text>
<text class="kb" x="1310" y="905.500">Lower Operational Cost</text>
<text class="kb" x="1310" y="928.500">Consistent Customer Experience</text>
<text class="kb" x="1310" y="951.500">Actionable Insights &amp; Analytics</text>
<text class="kb" x="1310" y="975">Scalable &amp; Future-Ready</text>
</g>

<g id="connectors" fill="none">
<path class="cn" d="M251 139H289" marker-end="url(#akb)"/>
<path class="cn" d="M544 139H583" marker-end="url(#akb)"/>
<path class="cn" d="M867 139H918" marker-end="url(#akb)"/>
<path class="cn" d="M1221 139H1267" marker-end="url(#akb)"/>
<path class="cn" d="M413 288V303" marker-end="url(#akd)"/>
<path class="cn" d="M413 368V383" marker-end="url(#akd)"/>
<path class="cn" d="M413 447V462" marker-end="url(#akd)"/>
<path class="cn" d="M413 526V540" marker-end="url(#akd)"/>
<path class="cn" d="M725 288V306" marker-end="url(#akd)"/>
<path class="cn" d="M725 414V436" marker-end="url(#akd)"/>
<path class="cn" d="M725 518V536" marker-end="url(#akd)"/>
<path class="cn" d="M1071 296V316" marker-end="url(#akd)"/>
<path class="cn" d="M1071 390V411" marker-end="url(#akd)"/>
<path class="cn" d="M1387 293V310" marker-end="url(#akd)"/>
<path class="cn" d="M1387 379V396" marker-end="url(#akd)"/>
<path class="cn" d="M1387 477V494" marker-end="url(#akd)"/>
<path class="cn" d="M1387 561V577" marker-end="url(#akd)"/>
<path class="cn" d="M339 749H357" marker-end="url(#akd)"/>
<path class="cn" d="M581 749H599" marker-end="url(#akd)"/>
<path class="cn" d="M813 749H831" marker-end="url(#akd)"/>
<path class="cn" d="M1028 749H1046" marker-end="url(#akd)"/>
<path d="M787 360H895Q905 360 905 370V650Q905 659 915 659H1358Q1367 659 1367 650V650" stroke="#2f7d22" stroke-width="1.500"/>
<path class="cn" d="M1367 652V642" marker-end="url(#akd)"/>
<path class="cn" d="M1071 480V496"/>
<path d="M1071 496H1013Q1008 496 1008 501V536" stroke="#2f7d22" stroke-width="1.500" marker-end="url(#agr)"/>
<path class="cn" d="M1071 496H1130"/>
<path d="M1130 496Q1134 496 1134 500V525Q1134 530 1139 530H1268" stroke="#d8141c" stroke-width="1.500" marker-end="url(#ard)"/>
<path d="M413.500 671V634" stroke="#1f8f6a" stroke-width="1.200" stroke-dasharray="3 2" marker-end="url(#atl)"/>
<path d="M725.500 671V634" stroke="#6a3ab5" stroke-width="1.200" stroke-dasharray="3 2" marker-end="url(#apu)"/>
<path d="M1065.500 671V634" stroke="#1c86c9" stroke-width="1.200" stroke-dasharray="3 2" marker-end="url(#abl)"/>
<path d="M1404 644V745Q1404 749 1400 749H1266" stroke="#e58422" stroke-width="1.200" stroke-dasharray="4 3" marker-start="url(#aor)" marker-end="url(#aor)"/>
<path d="M563 904H590" stroke="#555" stroke-width="1.200" stroke-dasharray="3 2" marker-start="url(#adb)" marker-end="url(#adb)"/>
<text class="lab" x="821" y="351" fill="#2f7d22" text-anchor="middle">Yes</text>
<text class="lab" x="696" y="422" fill="#d40f14" text-anchor="middle">No</text>
<text class="lab" x="985" y="516" fill="#2f7d22" text-anchor="middle">Yes</text>
<text class="lab" x="1155" y="516" fill="#d40f14" text-anchor="middle">No</text>
</g>
</svg>
